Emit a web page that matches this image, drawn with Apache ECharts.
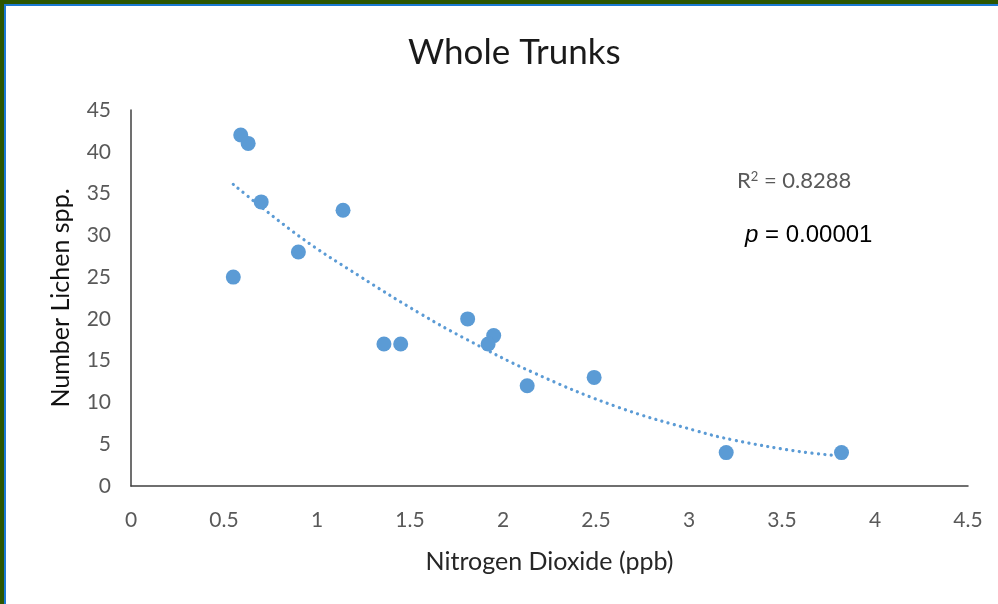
<!DOCTYPE html>
<html>
<head>
<meta charset="utf-8">
<script src="https://cdn.jsdelivr.net/npm/echarts@6/dist/echarts.min.js"></script>
<style>
  html, body { margin: 0; padding: 0; background: #fff; }
  #wrap { position: relative; width: 998px; height: 604px; overflow: hidden; }
  #chart { position: absolute; left: 0; top: 0; width: 998px; height: 604px; }
  .bt1 { position: absolute; left: 0; top: 0; width: 998px; height: 4px; background: #2c5600; }
  .bl1 { position: absolute; left: 0; top: 0; width: 4px; height: 604px; background: #2c5600; }
  .bt2 { position: absolute; left: 4px; top: 4px; width: 994px; height: 2px; background: #1b79d2; }
  .bl2 { position: absolute; left: 4px; top: 4px; width: 2px; height: 600px; background: #1b79d2; }
</style>
</head>
<body>
<div id="wrap">
  <div id="chart"></div>
  <div class="bt1"></div><div class="bl1"></div><div class="bt2"></div><div class="bl2"></div>
</div>
<script>
// Data
const no2 = [0.59, 0.63, 0.70, 0.55, 0.90, 1.14, 1.36, 1.45, 1.81, 1.95, 1.92, 2.13, 2.49, 3.20, 3.82];
const lichenSpp = [42, 41, 34, 25, 28, 33, 17, 17, 20, 18, 17, 12, 13, 4, 4];
// Polynomial trendline
const trendX = [0.55, 0.91, 1.23, 1.55, 1.80, 2.16, 2.61, 3.04, 3.24, 3.60, 3.82];
const trendY = [36.1, 29.8, 25.1, 20.7, 17.6, 13.6, 9.5, 6.6, 5.5, 4.1, 3.6];
const xTicks = [0, 0.5, 1, 1.5, 2, 2.5, 3, 3.5, 4, 4.5];
const yTicks = [0, 5, 10, 15, 20, 25, 30, 35, 40, 45];

const FONT = 'Lato, "Open Sans", sans-serif';
const chart = echarts.init(document.getElementById('chart'), null, { renderer: 'canvas' });

const scatterData = no2.map((x, i) => [x, lichenSpp[i]]);
const trendData = trendX.map((x, i) => [x, trendY[i]]);

chart.setOption({
  animation: false,
  backgroundColor: '#ffffff',
  title: {
    text: 'Whole Trunks',
    left: 403,
    top: 30,
    textStyle: { fontFamily: FONT, fontSize: 35, fontWeight: 'normal', color: '#1a1a1a' }
  },
  grid: { left: 131, right: 30, top: 110, bottom: 118 },
  xAxis: {
    type: 'value',
    min: xTicks[0],
    max: xTicks[xTicks.length - 1],
    interval: 0.5,
    name: 'Nitrogen Dioxide (ppb)',
    nameLocation: 'middle',
    nameGap: 63,
    nameTextStyle: { fontFamily: FONT, fontSize: 25, color: '#262626' },
    axisLine: { show: true, lineStyle: { color: '#404040', width: 1.5 } },
    axisTick: { show: false },
    splitLine: { show: false },
    axisLabel: { fontFamily: FONT, fontSize: 21, color: '#595959', margin: 24 }
  },
  yAxis: {
    type: 'value',
    min: yTicks[0],
    max: yTicks[yTicks.length - 1],
    interval: 5,
    name: 'Number Lichen spp.',
    nameLocation: 'middle',
    nameGap: 58,
    nameTextStyle: { fontFamily: FONT, fontSize: 25, color: '#111111' },
    axisLine: { show: true, lineStyle: { color: '#404040', width: 1.5 } },
    axisTick: { show: false },
    splitLine: { show: false },
    axisLabel: { fontFamily: FONT, fontSize: 21, color: '#595959', margin: 20 }
  },
  series: [
    {
      type: 'line',
      data: trendData,
      smooth: 0.4,
      showSymbol: false,
      symbol: 'none',
      lineStyle: { color: '#5b9bd5', width: 3.2, type: [0.1, 6.3], cap: 'round' },
      z: 2
    },
    {
      type: 'scatter',
      data: scatterData,
      symbol: 'circle',
      symbolSize: 15,
      itemStyle: { color: '#5b9bd5', opacity: 1 },
      z: 3
    }
  ],
  graphic: [
    {
      type: 'text',
      left: 737,
      top: 170,
      style: {
        text: '{a|R}{s|2}{a| = 0.8288}',
        rich: {
          a: { fontFamily: FONT, fontSize: 22, fill: '#595959' },
          s: { fontFamily: FONT, fontSize: 13, fill: '#595959', verticalAlign: 'top', padding: [0, 0, 9, 0] }
        }
      }
    },
    {
      type: 'text',
      left: 745,
      top: 223,
      style: {
        text: '{i|p}{n| = 0.00001}',
        rich: {
          i: { fontFamily: '"Liberation Sans", Arial, sans-serif', fontSize: 24, fontStyle: 'italic', fill: '#000' },
          n: { fontFamily: '"Liberation Sans", Arial, sans-serif', fontSize: 24, fill: '#000' }
        }
      }
    }
  ]
});
</script>
</body>
</html>
